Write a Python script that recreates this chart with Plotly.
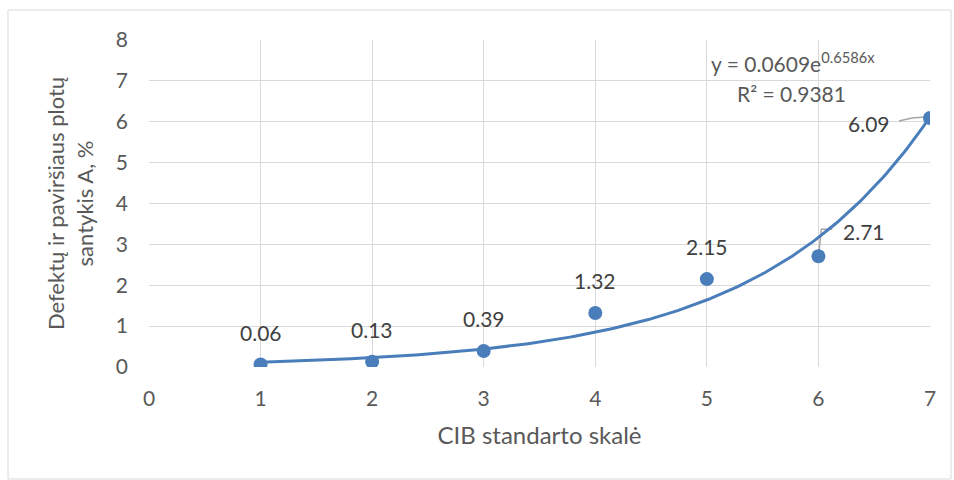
import plotly.graph_objects as go
import numpy as np

# Data
cib_scale = [1, 2, 3, 4, 5, 6, 7]
ratio_a = [0.06, 0.13, 0.39, 1.32, 2.15, 2.71, 6.09]
x_ticks = [0, 1, 2, 3, 4, 5, 6, 7]
y_ticks = [0, 1, 2, 3, 4, 5, 6, 7, 8]
# Exponential trendline parameters as printed on the chart
trend_a = 0.0609
trend_b = 0.6586
trend_r2 = 0.9381

BLUE = "#4a7ebb"
GRAY = "#595959"
GRID = "#d9d9d9"
FONT = "Lato, Open Sans, sans-serif"

xt = np.linspace(cib_scale[0], cib_scale[-1], 200)
yt = trend_a * np.exp(trend_b * xt)

fig = go.Figure()
fig.add_trace(go.Scatter(x=xt, y=yt, mode="lines",
                         line=dict(color=BLUE, width=3), hoverinfo="skip",
                         showlegend=False))
fig.add_trace(go.Scatter(x=cib_scale, y=ratio_a, mode="markers",
                         marker=dict(color=BLUE, size=14), showlegend=False))

lab_font = dict(family=FONT, size=21, color="#404040")
for xv, yv in zip(cib_scale[:5], ratio_a[:5]):
    fig.add_annotation(x=xv, y=yv, text=f"{yv:.2f}", showarrow=False,
                       yanchor="bottom", yshift=18, font=lab_font)

# 2.71 label with leader line
fig.add_annotation(x=cib_scale[5], y=ratio_a[5], text=f"{ratio_a[5]:.2f}",
                   showarrow=False, xshift=46, yshift=25, font=lab_font)
fig.add_shape(type="path", xref="x", yref="y", xsizemode="pixel", ysizemode="pixel",
              xanchor=cib_scale[5], yanchor=ratio_a[5],
              path="M 0 0 L 3 27 L 14 27", line=dict(color="#a6a6a6", width=1.5),
              layer="between")
# 6.09 label with leader line
fig.add_annotation(x=cib_scale[6], y=ratio_a[6], text=f"{ratio_a[6]:.2f}",
                   showarrow=False, xshift=-61, yshift=-5, font=lab_font)
fig.add_shape(type="path", xref="x", yref="y", xsizemode="pixel", ysizemode="pixel",
              xanchor=cib_scale[6], yanchor=ratio_a[6],
              path="M -5 1 L -18 0 L -31 -3", line=dict(color="#a6a6a6", width=1.5),
              layer="between")

# Equation
eq_font = dict(family=FONT, size=21, color=GRAY)
fig.add_annotation(xref="paper", yref="paper", x=0.8246, y=0.932,
                   text=f"y = {trend_a:.4f}e<sup>{trend_b:.4f}x</sup>", showarrow=False,
                   font=eq_font, xanchor="center", yanchor="middle")
fig.add_annotation(xref="paper", yref="paper", x=0.8233, y=0.836,
                   text=f"R² = {trend_r2:.4f}", showarrow=False,
                   font=eq_font, xanchor="center", yanchor="middle")

L, R, T, B = 149, 24, 40, 113
W, H = 954, 480
pw, ph = W - L - R, H - T - B
# outer chart border
fig.add_shape(type="rect", xref="paper", yref="paper",
              x0=(8 - L) / pw, x1=(951 - L) / pw,
              y0=-(479 - (T + ph)) / ph, y1=1 + (T - 10) / ph,
              line=dict(color="#d9d9d9", width=1), layer="below")

fig.update_layout(
    width=W, height=H, margin=dict(l=L, r=R, t=T, b=B),
    paper_bgcolor="white", plot_bgcolor="white",
    font=dict(family=FONT, color=GRAY),
    xaxis=dict(range=[0, 7], tickvals=x_ticks, showgrid=True, gridcolor=GRID,
               gridwidth=1, zeroline=False, showline=False,
               tickfont=dict(size=21, color=GRAY), ticklabelstandoff=17,
               title=dict(text="CIB standarto skalė", font=dict(size=24, color=GRAY),
                          standoff=18)),
    yaxis=dict(range=[0, 8], tickvals=y_ticks, showgrid=True, gridcolor=GRID,
               gridwidth=1, zeroline=False, showline=False,
               tickfont=dict(size=21, color=GRAY), ticklabelstandoff=20,
               title=dict(text="Defektų ir paviršiaus plotų<br>santykis A, %",
                          font=dict(size=22, color=GRAY), standoff=16)),
)

fig.write_html("out.html")
